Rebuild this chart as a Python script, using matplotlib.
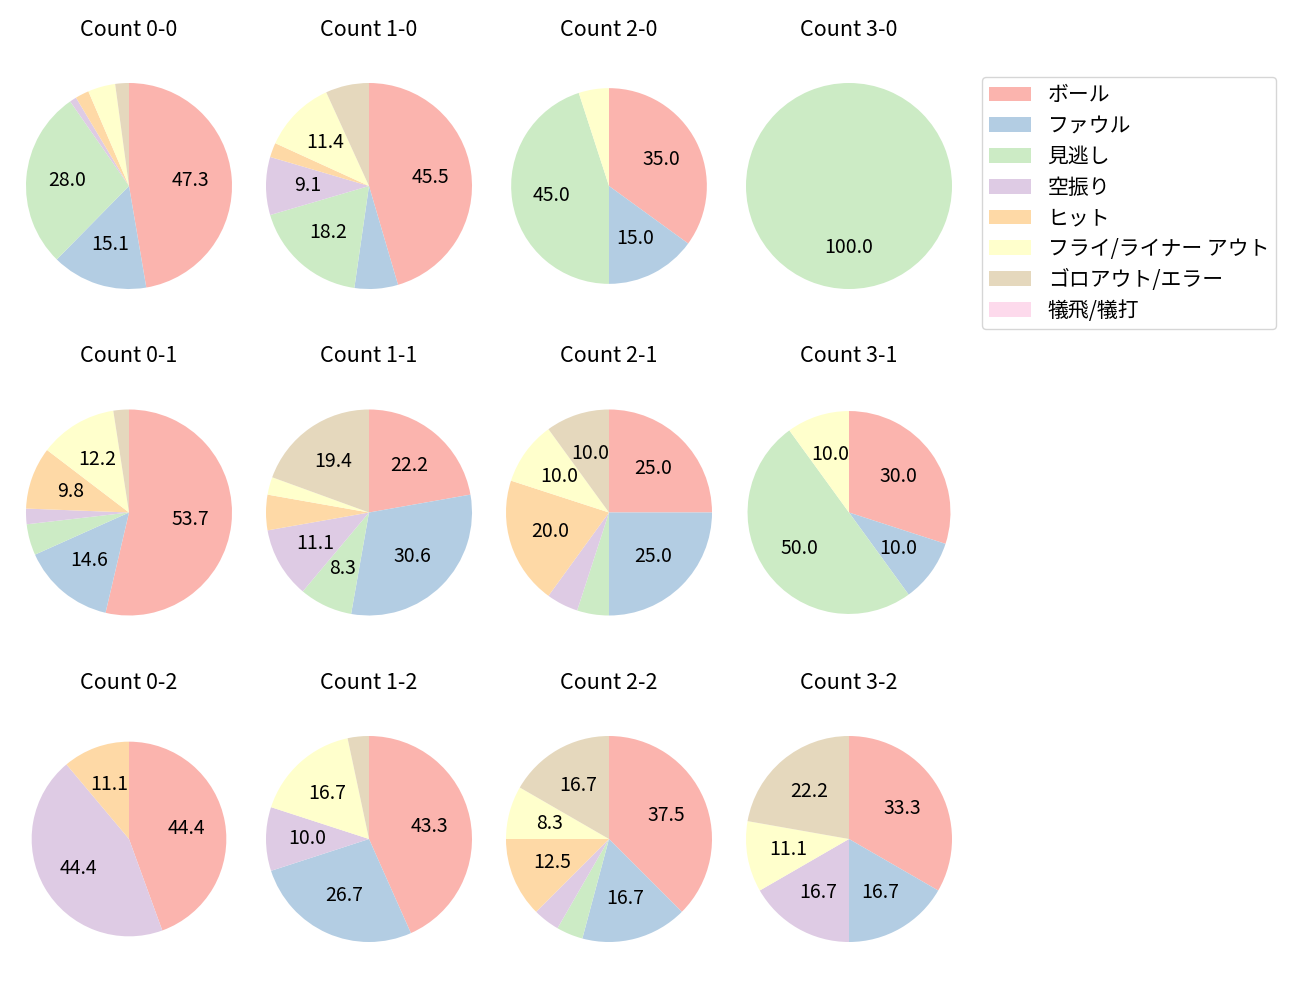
import matplotlib
matplotlib.use("Agg")
import matplotlib.pyplot as plt
from matplotlib.patches import Patch

plt.rcParams['font.family'] = ['Noto Sans CJK JP', 'DejaVu Sans']

categories = ["ボール", "ファウル", "見逃し", "空振り", "ヒット",
              "フライ/ライナー アウト", "ゴロアウト/エラー", "犠飛/犠打"]

counts = ["0-0", "1-0", "2-0", "3-0",
          "0-1", "1-1", "2-1", "3-1",
          "0-2", "1-2", "2-2", "3-2"]

# pitch counts per category, same order as categories
values = {
    "0-0": [44, 14, 26, 1, 2, 4, 2, 0],
    "1-0": [20, 3, 8, 4, 1, 5, 3, 0],
    "2-0": [7, 3, 9, 0, 0, 1, 0, 0],
    "3-0": [0, 0, 1, 0, 0, 0, 0, 0],
    "0-1": [22, 6, 2, 1, 4, 5, 1, 0],
    "1-1": [8, 11, 3, 4, 2, 1, 7, 0],
    "2-1": [5, 5, 1, 1, 4, 2, 2, 0],
    "3-1": [3, 1, 5, 0, 0, 1, 0, 0],
    "0-2": [4, 0, 0, 4, 1, 0, 0, 0],
    "1-2": [13, 8, 0, 3, 0, 5, 1, 0],
    "2-2": [9, 4, 1, 1, 3, 2, 4, 0],
    "3-2": [6, 3, 0, 3, 0, 2, 4, 0],
}

colors = plt.cm.Pastel1.colors[:8]

# a few pies came out slightly smaller in the original
radii = {"2-0": 0.95, "3-1": 0.985, "0-2": 0.945}

fig = plt.figure(figsize=(13, 10), dpi=100)
W, H = 1300, 1000
R = 103.0
side = 2.5 * R


def autopct(p):
    return "%.1f" % p if p >= 8 else ""


for i, c in enumerate(counts):
    row, col = divmod(i, 4)
    cx = 129 + 240 * col
    cy = 186 + 326.5 * row
    ax = fig.add_axes([(cx - side / 2) / W, 1 - (cy + side / 2) / H, side / W, side / H])
    vals = values[c]
    ax.pie(vals, colors=colors, startangle=90, counterclock=False,
           autopct=autopct, radius=radii.get(c, 1.0),
           textprops={'fontsize': 14})
    ax.set_xlim(-1.25, 1.25)
    ax.set_ylim(-1.25, 1.25)
    fig.text(cx / W, 1 - 30 / H - row * 326.5 / H, "Count " + c,
             ha='center', va='center', fontsize=15.5)

handles = [Patch(facecolor=col, label=lab) for col, lab in zip(colors, categories)]
fig.legend(handles=handles, loc='upper left', bbox_to_anchor=(982 / W, 1 - 77 / H),
           borderaxespad=0, fontsize=15, frameon=True, labelspacing=0.42,
           borderpad=0.35)

fig.savefig("out.png")
